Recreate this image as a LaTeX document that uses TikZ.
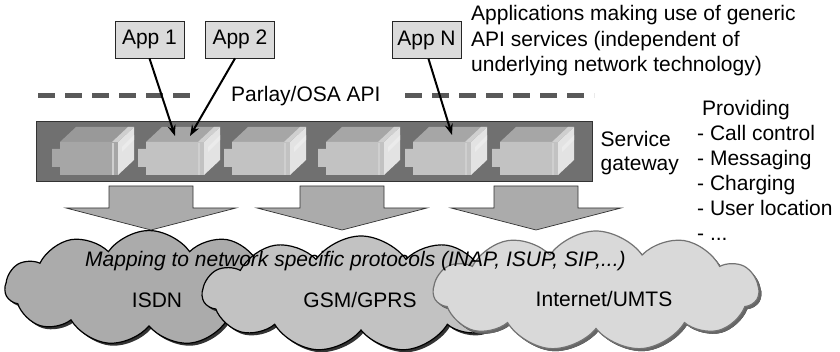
\documentclass[tikz,border=0pt]{standalone}
\usepackage{fontspec}
\setmainfont{Liberation Sans}
\usetikzlibrary{calc,shapes.symbols,shadows,arrows.meta}

\tikzset{
  appbox/.style={draw=black!85,fill=black!14,line width=0.8pt,minimum width=69pt,minimum height=37pt,inner sep=0pt},
  apparrow/.style={-{Stealth[length=11pt,width=8pt]},line width=2pt},
  apiline/.style={line width=5pt,draw=black!65,dash pattern=on 17pt off 10pt},
  gwbar/.style={draw=black!80,fill=black!56,line width=1pt,minimum width=556pt,minimum height=60pt,inner sep=0pt},
  maparrow/.style={draw=black!80,fill=black!33,line width=0.7pt},
  netcloud/.style={cloud,cloud puffs=11,cloud puff arc=110,cloud ignores aspect,inner sep=0pt,line width=1.2pt,draw=black,
    drop shadow={shadow xshift=2.5pt,shadow yshift=-2.5pt,fill=black!80,opacity=1}},
  txt/.style={anchor=base west,inner sep=0pt},
}

\begin{document}
\begin{tikzpicture}[x=1pt,y=-1pt,font=\fontsize{21pt}{25pt}\selectfont]
\useasboundingbox (0,0) rectangle (840,352);

\node[appbox] (app1) at (149.5,39.5) {App 1};
\node[appbox] (app2) at (240,39.5) {App 2};
\node[appbox] (appn) at (426.5,40) {App N};

\node[txt] (appl1) at (471,21) {Applications making use of generic};
\node[txt] (appl2) at (471,47) {API services (independent of};
\node[txt] (appl3) at (471,72) {underlying network technology)};

% API layer
\node[txt] (api) at (231,102) {Parlay/OSA API};
\coordinate (apia) at (38,96);
\coordinate (apib) at (190,96);
\coordinate (apic) at (405,96);
\coordinate (apid) at (594,96);
\draw[apiline] (apia) -- (apib);
\draw[apiline] (apic) -- (apid);

% gateway with its modules
\node[gwbar] (gw) at (314,152) {};
\foreach \mx/\fc/\tc in {52/35/40,138/24/35,224/24/35,318/24/35,405/24/35,492/24/35}{
  \fill[black!\tc] (\mx+8,142) -- (\mx+24,127) -- (\mx+82,127) -- (\mx+66,142) -- cycle;
  \fill[black!\fc] (\mx,149) -- (\mx+8,149) -- (\mx+8,142) -- (\mx+66,142) -- (\mx+66,175)
    -- (\mx+8,175) -- (\mx+8,167) -- (\mx,167) -- cycle;
  \fill[black!11] (\mx+66,142) -- (\mx+82,127) -- (\mx+82,160) -- (\mx+66,175) -- cycle;
  \fill[black!19] (\mx+60,142) -- (\mx+76,127) -- (\mx+82,127) -- (\mx+66,142) -- cycle;
  \draw[black!19,line width=1.5pt] (\mx+61,143) -- (\mx+61,175);
  \fill[black!8] (\mx+70,147) -- (\mx+82,135) -- (\mx+82,140) -- (\mx+70,152) -- cycle;
}

\coordinate (t1) at (175,136);
\coordinate (t2) at (190,136);
\coordinate (tn) at (452,135);
\draw[apparrow] (app1.south) -- (t1);
\draw[apparrow] ([xshift=-5pt]app2.south) -- (t2);
\draw[apparrow] ([xshift=2pt]appn.south) -- (tn);

\node[txt] (sg1) at ($(gw.east)+(8,-5)$) {Service};
\node[txt] (sg2) at ($(gw.east)+(8,19)$) {gateway};

\node[txt] (prov0) at (702,116) {Providing};
\foreach \t [count=\i] in {- Call control,- Messaging,- Charging,- User location}
  \node[txt] (prov\i) at (697,116+25*\i) {\t};
\node[txt] (prov5) at (697,241) {- ...};

% networks
\node[netcloud,fill=black!33,minimum width=288pt,minimum height=115pt] (isdn) at (149,288) {};
\node[netcloud,fill=black!24,minimum width=317pt,minimum height=116pt] (gsm) at (361,294) {};
\node[netcloud,fill=black!15,draw=black!55,minimum width=325pt,minimum height=120pt,
  drop shadow={shadow xshift=2.5pt,shadow yshift=-2.5pt,fill=black!60,opacity=1}] (inet) at (596,291) {};

\foreach \c in {151,342,536}
  \draw[maparrow] ({\c-42},186) -- ({\c+42},186) -- ({\c+42},208) -- ({\c+85},208) -- (\c,230)
    -- ({\c-85},208) -- ({\c-42},208) -- cycle;

\node[anchor=base,inner sep=0pt] (isdnl) at (157,308) {ISDN};
\node[anchor=base,inner sep=0pt] (gsml) at (360,308) {GSM/GPRS};
\node[anchor=base,inner sep=0pt] (inetl) at (604,307) {Internet/UMTS};
\node[txt] (map) at (85,267) {\itshape Mapping to network specific protocols (INAP, ISUP, SIP,...)};
\end{tikzpicture}
\end{document}
